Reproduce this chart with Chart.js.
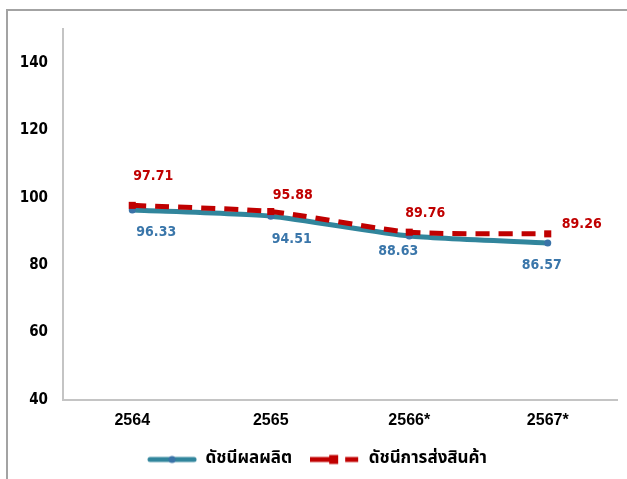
<!DOCTYPE html>
<html>
<head>
<meta charset="utf-8">
<script src="https://cdn.jsdelivr.net/npm/chart.js@4.4.1/dist/chart.umd.min.js"></script>
<style>
html,body{margin:0;padding:0;background:#fff;}
#wrap{position:absolute;left:0;top:0;width:627px;height:479px;}
</style>
</head>
<body>
<div id="wrap"><canvas id="c" width="627" height="479"></canvas></div>
<script>
const categories = ['2564', '2565', '2566*', '2567*'];
const productionIndex = [96.33, 94.51, 88.63, 86.57];
const shipmentIndex = [97.71, 95.88, 89.76, 89.26];
const seriesNames = ['ดัชนีผลผลิต', 'ดัชนีการส่งสินค้า'];
const yTicks = [40, 60, 80, 100, 120, 140];

const BLUE_LINE = '#31859c';
const BLUE_POINT = '#3a73a8';
const BLUE_TEXT = '#3a76aa';
const RED = '#c00000';
const THAI_FONT = "Tahoma, 'Noto Sans Thai', 'Leelawadee UI', 'DejaVu Sans', sans-serif";
const NUM_FONT = "Tahoma, 'DejaVu Sans Condensed', 'DejaVu Sans', sans-serif";

function legendIcon(kind) {
  const c = document.createElement('canvas');
  c.width = 50; c.height = 12;
  const g = c.getContext('2d');
  if (kind === 'blue') {
    g.strokeStyle = BLUE_LINE; g.lineWidth = 5; g.lineCap = 'round';
    g.beginPath(); g.moveTo(3, 6); g.lineTo(47, 6); g.stroke();
    g.fillStyle = BLUE_POINT; g.beginPath(); g.arc(25, 6, 3.5, 0, Math.PI * 2); g.fill();
  } else {
    g.strokeStyle = RED; g.lineWidth = 5; g.lineCap = 'butt';
    g.beginPath(); g.moveTo(0, 6); g.lineTo(20, 6); g.stroke();
    g.fillStyle = RED; g.fillRect(19, 1.5, 9, 9);
    g.beginPath(); g.moveTo(35, 6); g.lineTo(48, 6); g.stroke();
  }
  return c;
}
const icons = [legendIcon('blue'), legendIcon('red')];

const labelPlugin = {
  id: 'pointLabels',
  afterDatasetsDraw(chart, args, opts) {
    const ctx = chart.ctx;
    ctx.save();
    ctx.font = 'bold 14px ' + NUM_FONT;
    ctx.textAlign = 'center';
    ctx.textBaseline = 'middle';
    chart.data.datasets.forEach((ds, di) => {
      const meta = chart.getDatasetMeta(di);
      const offs = opts.offsets[di];
      ctx.fillStyle = opts.colors[di];
      meta.data.forEach((pt, i) => {
        ctx.fillText(ds.data[i].toFixed(2), pt.x + offs[i][0], pt.y + offs[i][1]);
      });
    });
    ctx.restore();
  }
};

const framePlugin = {
  id: 'frame',
  beforeDraw(chart) {
    const ctx = chart.ctx;
    ctx.save();
    ctx.strokeStyle = '#a3a3a3';
    ctx.lineWidth = 2;
    ctx.beginPath();
    ctx.moveTo(7, 479); ctx.lineTo(7, 10); ctx.lineTo(627, 10);
    ctx.stroke();
    ctx.restore();
  }
};

new Chart(document.getElementById('c'), {
  type: 'line',
  data: {
    labels: categories,
    datasets: [
      {
        label: seriesNames[0],
        data: productionIndex,
        borderColor: BLUE_LINE,
        backgroundColor: BLUE_POINT,
        borderWidth: 5,
        pointStyle: 'circle',
        pointRadius: 3.5,
        pointBackgroundColor: BLUE_POINT,
        pointBorderWidth: 0,
        tension: 0.2,
        order: 1
      },
      {
        label: seriesNames[1],
        data: shipmentIndex,
        borderColor: RED,
        backgroundColor: RED,
        borderWidth: 5,
        borderDash: [14, 9],
        pointStyle: 'rect',
        pointRadius: 5,
        pointBackgroundColor: RED,
        pointBorderWidth: 0,
        tension: 0.2,
        order: 0
      }
    ]
  },
  options: {
    responsive: false,
    devicePixelRatio: 1,
    animation: false,
    layout: { padding: { left: 17, right: 10, top: 29, bottom: 1 } },
    plugins: {
      tooltip: { enabled: false },
      legend: {
        position: 'bottom',
        labels: {
          usePointStyle: true,
          pointStyleWidth: 50,
          padding: 18,
          color: '#000',
          font: { family: THAI_FONT, size: 17, weight: 'bold' },
          generateLabels(chart) {
            return chart.data.datasets.map((ds, i) => ({
              text: ds.label,
              pointStyle: icons[i],
              fillStyle: ds.borderColor,
              strokeStyle: ds.borderColor,
              lineWidth: 0,
              hidden: false,
              datasetIndex: i,
              fontColor: '#000'
            }));
          }
        }
      },
      pointLabels: {
        colors: [BLUE_TEXT, RED],
        offsets: [
          [[24, 22], [21, 23], [-11, 15], [-6, 22]],
          [[21, -29], [22, -16], [16, -19], [34, -10]]
        ]
      }
    },
    scales: {
      x: {
        offset: true,
        grid: { display: false, drawTicks: false, offset: true },
        border: { display: true, color: '#c4c4c4', width: 2 },
        ticks: {
          color: '#000',
          padding: 11,
          font: { family: "'Liberation Sans', Arial, sans-serif", size: 16, weight: 'bold' }
        },
        afterFit(scale) { scale.height = 33; }
      },
      y: {
        min: 40,
        max: 150,
        grid: { display: false, drawTicks: false },
        border: { display: true, color: '#c4c4c4', width: 2 },
        afterBuildTicks(scale) { scale.ticks = yTicks.map(v => ({ value: v })); },
        ticks: {
          color: '#000',
          padding: 15,
          font: { family: NUM_FONT, size: 15, weight: 'bold' }
        },
        afterFit(scale) { scale.width = 46; }
      }
    }
  },
  plugins: [labelPlugin, framePlugin]
});
</script>
</body>
</html>
